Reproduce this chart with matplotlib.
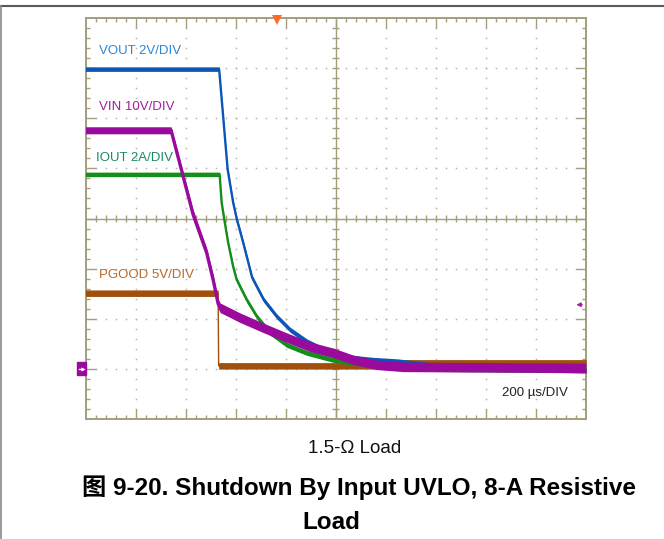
import numpy as np
import matplotlib.pyplot as plt
from matplotlib.lines import Line2D
from matplotlib.patches import Rectangle

plt.rcParams['font.family'] = ['Liberation Sans', 'Noto Sans CJK SC', 'DejaVu Sans']

# scope traces, in divisions (x: 0..10, y: 0..8)
vout_x = [0, 2.67, 2.75, 2.84, 2.95, 3.02, 3.15, 3.33, 3.56, 3.82, 4.09, 4.42, 4.89, 5.35, 5.75, 6.23, 6.69, 7.29, 10]
vout_y = [6.98, 6.98, 6.04, 4.98, 4.32, 4.00, 3.52, 2.82, 2.38, 2.05, 1.78, 1.55, 1.32, 1.22, 1.18, 1.15, 1.10, 1.02, 0.97]

iout_x = [0, 2.68, 2.72, 2.77, 2.85, 2.95, 3.02, 3.22, 3.42, 3.69, 4.02, 4.42, 4.95, 5.35, 5.89, 6.69, 10]
iout_y = [4.88, 4.88, 4.32, 4.00, 3.52, 3.04, 2.78, 2.38, 2.05, 1.72, 1.48, 1.32, 1.18, 1.12, 1.06, 1.00, 0.97]

vin_x = [0, 1.71, 2.15, 2.42, 2.55, 2.65, 2.69, 3.09, 3.55, 4.03, 4.49, 4.95, 5.35, 5.83, 6.35, 10]
vin_y = [5.76, 5.76, 4.08, 3.32, 2.78, 2.30, 2.22, 2.02, 1.82, 1.62, 1.44, 1.32, 1.18, 1.08, 1.04, 1.02]

pg_x = [0, 2.65, 2.66, 5.8, 6.3, 10]
pg_y = [2.51, 2.51, 1.06, 1.06, 1.12, 1.12]

labels = ['VOUT 2V/DIV', 'VIN 10V/DIV', 'IOUT 2A/DIV', 'PGOOD 5V/DIV']
timebase = '200 \u00b5s/DIV'
subcap = '1.5-\u03a9 Load'
caption1 = '\u56fe 9-20. Shutdown By Input UVLO, 8-A Resistive'
caption2 = 'Load'

W, H = 664, 539
fig = plt.figure(figsize=(W / 100, H / 100), dpi=100)
ax = fig.add_axes([85.5 / W, (H - 419) / H, 500.5 / W, 401 / H])
ax.set_xlim(0, 10)
ax.set_ylim(0, 8)
ax.set_xticks([])
ax.set_yticks([])
frame = '#a39e7c'
for s in ax.spines.values():
    s.set_color(frame)
    s.set_linewidth(1.4)

# dotted graticule
dotc = '#b4b4b4'
fine_y = np.arange(0.2, 8, 0.2)
fine_x = np.arange(0.2, 10, 0.2)
for gx in range(1, 10):
    if gx != 5:
        ax.plot(np.full(len(fine_y), gx), fine_y, ls='none', marker='s', ms=1.1, mew=0, color=dotc, zorder=1)
for gy in range(1, 8):
    if gy != 4:
        ax.plot(fine_x, np.full(len(fine_x), gy), ls='none', marker='s', ms=1.1, mew=0, color=dotc, zorder=1)

# center cross with ticks
ax.axvline(5, color=frame, lw=1.0, zorder=1)
ax.axhline(4, color=frame, lw=1.0, zorder=1)
ax.hlines(fine_y, 5 - 0.07, 5 + 0.07, color=frame, lw=1.0, zorder=1)
ax.vlines(fine_x, 4 - 0.07, 4 + 0.07, color=frame, lw=1.0, zorder=1)

# border ticks
minor_x = [v for v in fine_x if abs(v - round(v)) > 1e-6]
minor_y = [v for v in fine_y if abs(v - round(v)) > 1e-6]
ax.vlines(minor_x, 0, 0.08, color=frame, lw=1.0)
ax.vlines(minor_x, 8 - 0.08, 8, color=frame, lw=1.0)
ax.vlines(range(1, 10), 0, 0.2, color=frame, lw=1.0)
ax.vlines(range(1, 10), 8 - 0.2, 8, color=frame, lw=1.0)
ax.hlines(minor_y, 0, 0.08, color=frame, lw=1.0)
ax.hlines(minor_y, 10 - 0.08, 10, color=frame, lw=1.0)
ax.hlines(range(1, 8), 0, 0.2, color=frame, lw=1.0)
ax.hlines(range(1, 8), 10 - 0.2, 10, color=frame, lw=1.0)


def trace(x, y, color, band_flat, band_tail, x_drop, lw, z):
    # noisy scope trace: a vertical band around the line, thicker after the drop
    x = np.asarray(x, float)
    y = np.asarray(y, float)
    band = np.where(x <= x_drop, band_flat, band_tail)
    ax.fill_between(x, y - band, y + band, color=color, lw=0, zorder=z)
    ax.plot(x, y, color=color, lw=lw, zorder=z, solid_joinstyle='round')


trace(pg_x, pg_y, '#a0500c', 0.065, 0.065, 2.65, 1.0, 3)
trace(iout_x, iout_y, '#14901a', 0.045, 0.05, 2.68, 1.7, 4)
trace(vout_x, vout_y, '#0c56b8', 0.045, 0.05, 2.67, 1.7, 5)
trace(vin_x, vin_y, '#9a0a9c', 0.07, 0.095, 1.71, 2.4, 6)

# channel labels
ax.text(0.27, 7.34, labels[0], color='#2a88d6', fontsize=9.5, va='center', zorder=7)
ax.text(0.27, 6.22, labels[1], color='#a41ea4', fontsize=9.5, va='center', zorder=7)
ax.text(0.21, 5.20, labels[2], color='#1b8a62', fontsize=9.5, va='center', zorder=7)
ax.text(0.27, 2.88, labels[3], color='#b86a26', fontsize=9.5, va='center', zorder=7)
ax.text(8.33, 0.52, timebase, color='#222222', fontsize=9.5, va='center', zorder=7)

# markers: trigger, ground ref, threshold arrow
ax.plot([3.83], [7.96], marker='v', ms=7, color='#ff6a28', mew=0, clip_on=False, zorder=8)
ax.add_patch(Rectangle((-0.17, 0.87), 0.17, 0.26, color='#9a0a9c', clip_on=False, zorder=8))
ax.plot([-0.13, -0.04], [1.0, 1.0], color='white', lw=1, clip_on=False, zorder=9)
ax.plot([-0.05], [1.0], marker='>', ms=3, color='white', mew=0, clip_on=False, zorder=9)
ax.annotate('', xy=(9.75, 2.28), xytext=(9.98, 2.28),
            arrowprops=dict(arrowstyle='-|>', color='#a41ea4', lw=1, mutation_scale=6), zorder=8)

# page frame lines
fig.add_artist(Line2D([0, 1], [1 - 6 / H, 1 - 6 / H], color='#5a5a5a', lw=1.5))
fig.add_artist(Line2D([1.2 / W, 1.2 / W], [0, 1 - 6 / H], color='#8a8a8a', lw=1.2))

fig.text(355 / W, 1 - 453 / H, subcap, ha='center', va='baseline', fontsize=13.5, color='#111111')
fig.text(359 / W, 1 - 495 / H, caption1, ha='center', va='baseline', fontsize=17.5,
         fontweight='bold', color='#000000')
fig.text(331.5 / W, 1 - 529 / H, caption2, ha='center', va='baseline', fontsize=17.5,
         fontweight='bold', color='#000000')

fig.savefig('out.png', dpi=100)
